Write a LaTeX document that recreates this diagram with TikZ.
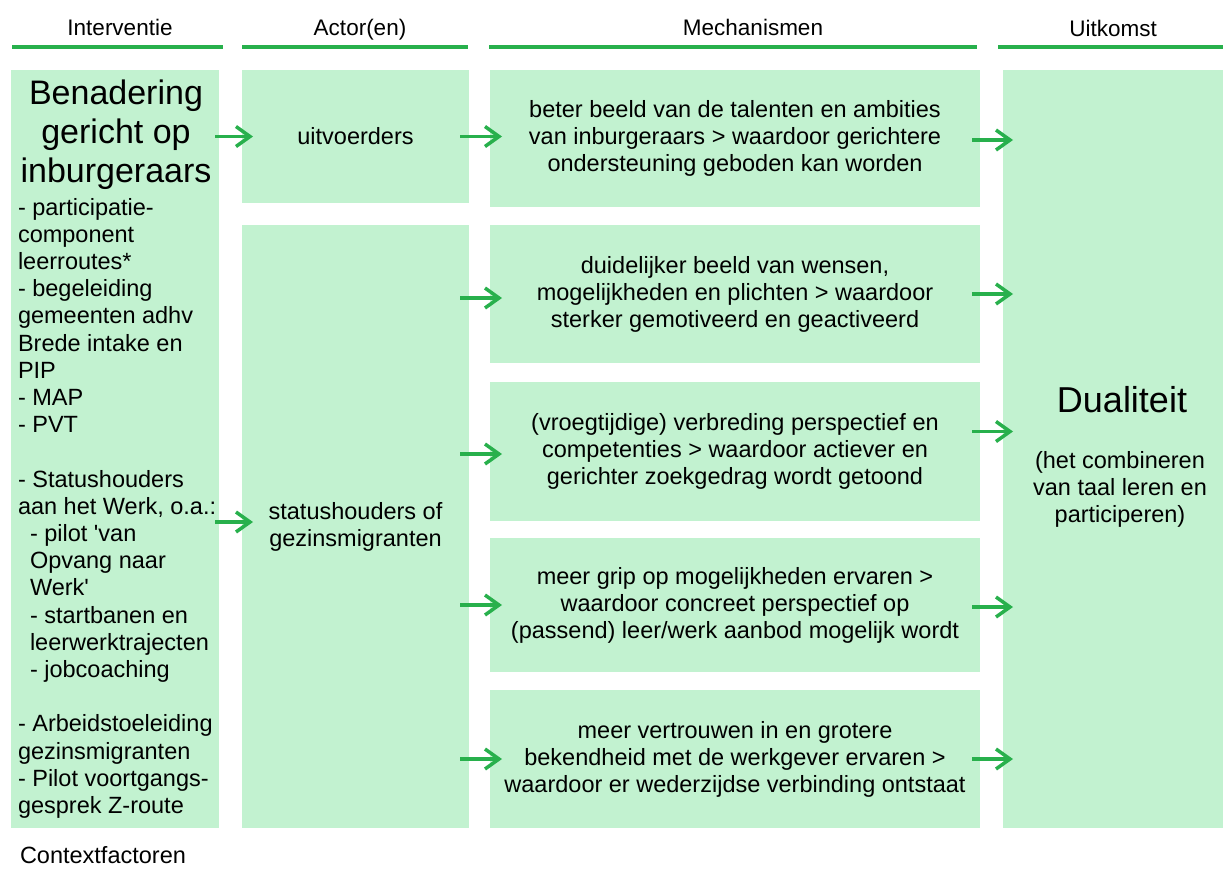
\documentclass[tikz,border=0pt]{standalone}
\usepackage{fontspec}
\setmainfont{Liberation Sans}
\usetikzlibrary{arrows.meta}
\definecolor{vakgroen}{RGB}{194,242,208}
\definecolor{lijngroen}{RGB}{40,176,76}

\begin{document}
\begin{tikzpicture}[x=1pt, y=-1pt,
    every node/.style={inner sep=0pt, outer sep=0pt, font=\fontsize{23.5}{27}\selectfont},
    vak/.style={fill=vakgroen, anchor=north west, align=center},
    kop/.style={anchor=base, font=\fontsize{22.5}{27}\selectfont},
    kopstreep/.style={draw=lijngroen, line width=3.2pt},
    pijl/.style={draw=lijngroen, line width=3.5pt, -{Straight Barb[length=14pt, width=20pt]}}]
            \useasboundingbox (0,0) rectangle (1223,868);
            % kolomkoppen
            \node[kop] (kint) at (120,35) {Interventie};
            \node[kop] (kact) at (360,35) {Actor(en)};
            \node[kop] (kmech) at (753,35) {Mechanismen};
            \node[kop] (kuit) at (1113,36) {Uitkomst};
            \draw[kopstreep] (12,47) -- (223,47);
            \draw[kopstreep] (242,47) -- (468,47);
            \draw[kopstreep] (489,47) -- (977,47);
            \draw[kopstreep] (998,47) -- (1223,47);
            % vakken
            \node[vak, minimum width=208pt, minimum height=758pt] (int) at (11,70) {};
            \node[vak, minimum width=227pt, minimum height=133pt] (act1) at (242,70) {uitvoerders};
            \node[vak, minimum width=227pt, minimum height=603pt] (act2) at (242,225) {statushouders of\\gezinsmigranten};
            \node[vak, minimum width=490pt, minimum height=137pt] (m1) at (490,70) {beter beeld van de talenten en ambities\\van inburgeraars > waardoor gerichtere\\ondersteuning geboden kan worden};
            \node[vak, minimum width=490pt, minimum height=138pt] (m2) at (490,225) {duidelijker beeld van wensen,\\mogelijkheden en plichten > waardoor\\sterker gemotiveerd en geactiveerd};
            \node[vak, minimum width=490pt, minimum height=139pt] (m3) at (490,382) {(vroegtijdige) verbreding perspectief en\\competenties > waardoor actiever en\\gerichter zoekgedrag wordt getoond};
            \node[vak, minimum width=490pt, minimum height=134pt] (m4) at (490,538) {meer grip op mogelijkheden ervaren >\\waardoor concreet perspectief op\\(passend) leer/werk aanbod mogelijk wordt};
            \node[vak, minimum width=490pt, minimum height=138pt] (m5) at (490,690) {meer vertrouwen in en grotere\\bekendheid met de werkgever ervaren >\\waardoor er wederzijdse verbinding ontstaat};
            \node[vak, minimum width=220pt, minimum height=758pt] (uit) at (1003,70) {};
            % teksten in de vakken links en rechts
            \node[align=center, font=\fontsize{34}{39}\selectfont] (titel) at (116,135) {Benadering\\gericht op\\inburgeraars};
            \node[align=left, anchor=north west, font=\fontsize{23.5}{27.2}\selectfont] (lijst) at (18,198) {- participatie-\\component\\leerroutes*\\- begeleiding\\gemeenten adhv\\Brede intake en\\PIP\\- MAP\\- PVT\\~\\- Statushouders\\aan het Werk, o.a.:\\\hspace*{12pt}- pilot \textquotesingle van\\\hspace*{12pt}Opvang naar\\\hspace*{12pt}Werk\textquotesingle\\\hspace*{12pt}- startbanen en\\\hspace*{12pt}leerwerktrajecten\\\hspace*{12pt}- jobcoaching\\~\\- Arbeidstoeleiding\\gezinsmigranten\\- Pilot voortgangs-\\gesprek Z-route};
            \node[font=\fontsize{36}{40}\selectfont] (dual) at (1122,400) {Dualiteit};
            \node[align=center] (dualtekst) at (1120,489) {(het combineren\\van taal leren en\\participeren)};
            \node[anchor=base west] (context) at (20,863) {Contextfactoren};
            % pijlen
            \draw[pijl] ([xshift=-4pt]int.east |- act1.west) -- ([xshift=11pt]act1.west);
            \draw[pijl] ([xshift=-4pt,yshift=4.5pt]int.east |- act2.west) -- ([xshift=11pt,yshift=4.5pt]act2.west);
            \draw[pijl] ([xshift=-9pt]act1.east) -- ([xshift=12pt]m1.west |- act1.east);
            \draw[pijl] ([xshift=-9pt,yshift=-4pt]act2.east |- m2.west) -- ([xshift=12pt,yshift=-4pt]m2.west);
            \draw[pijl] ([xshift=-9pt,yshift=-2.5pt]act2.east |- m3.west) -- ([xshift=12pt,yshift=-2.5pt]m3.west);
            \draw[pijl] ([xshift=-9pt]act2.east |- m4.west) -- ([xshift=12pt]m4.west);
            \draw[pijl] ([xshift=-9pt]act2.east |- m5.west) -- ([xshift=12pt]m5.west);
            \draw[pijl] ([xshift=-8pt,yshift=-1.5pt]m1.east) -- ([xshift=10pt,yshift=-1.5pt]uit.west |- m1.east);
            \draw[pijl] ([xshift=-8pt]m2.east) -- ([xshift=10pt]uit.west |- m2.east);
            \draw[pijl] ([xshift=-8pt,yshift=20pt]m3.east) -- ([xshift=10pt,yshift=20pt]uit.west |- m3.east);
            \draw[pijl] ([xshift=-8pt,yshift=-2pt]m4.east) -- ([xshift=10pt,yshift=-2pt]uit.west |- m4.east);
            \draw[pijl] ([xshift=-8pt]m5.east) -- ([xshift=10pt]uit.west |- m5.east);
        \end{tikzpicture}
\end{document}
